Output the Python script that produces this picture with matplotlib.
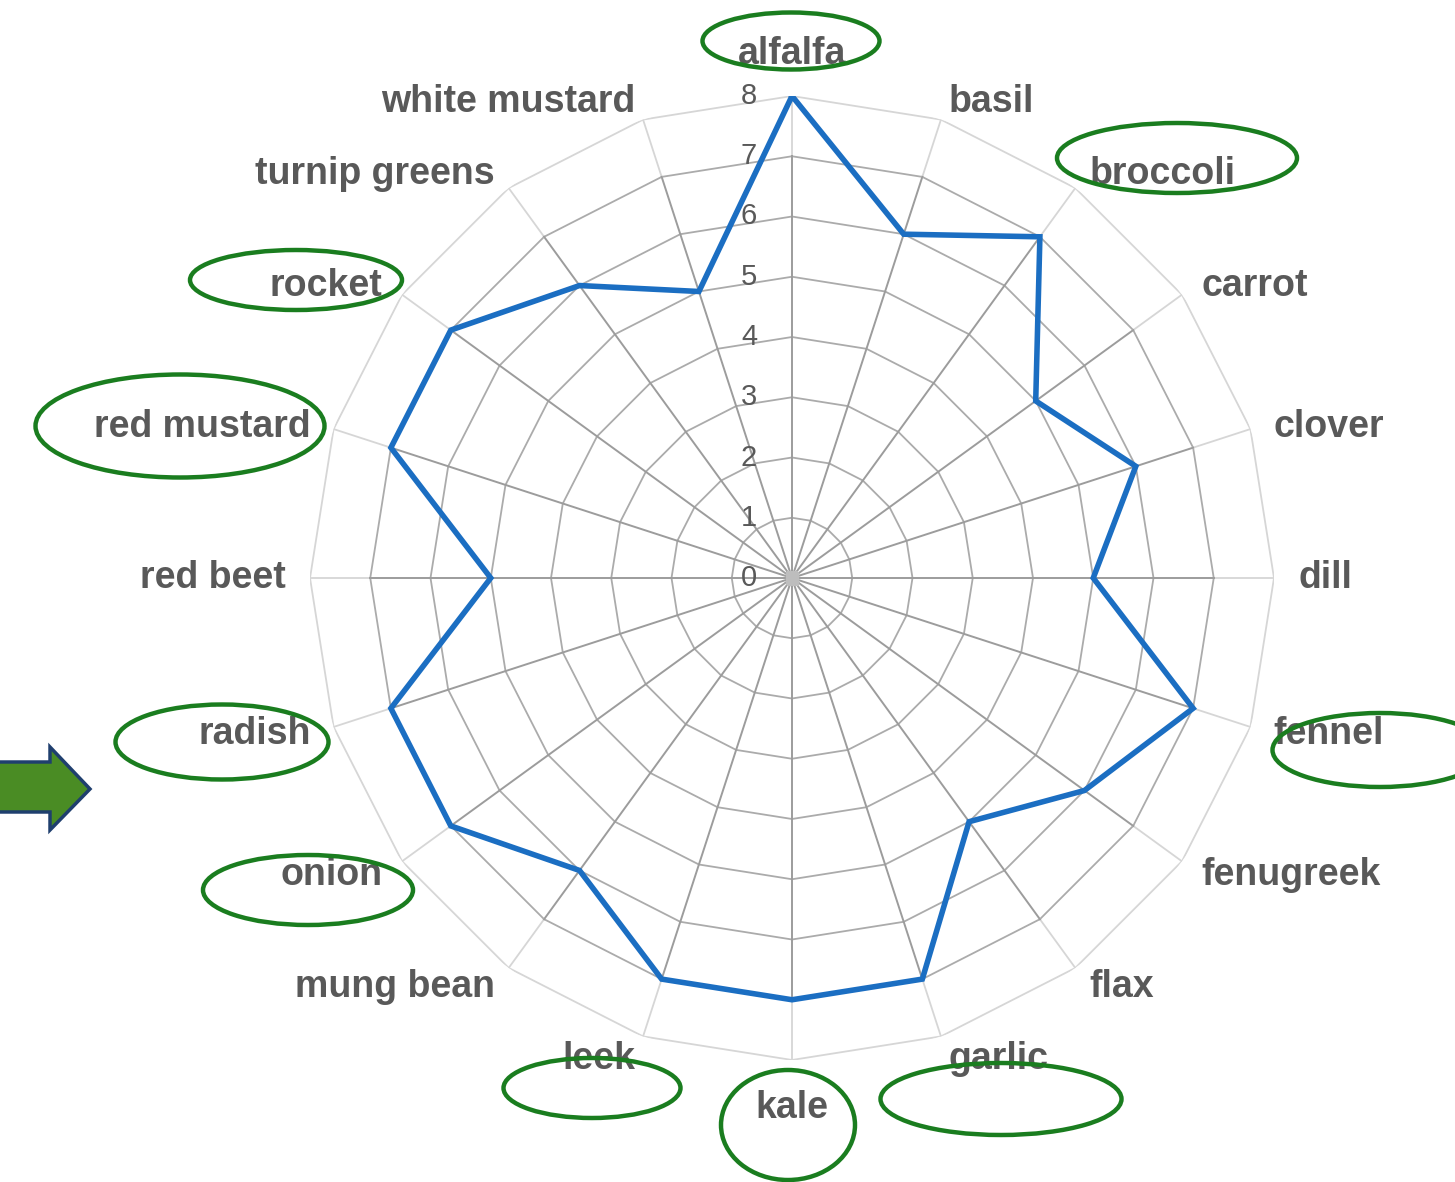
import numpy as np
import matplotlib
matplotlib.use("Agg")
from matplotlib import pyplot as plt
from matplotlib.patches import Ellipse, Polygon
import matplotlib.transforms as mtransforms

# categories, clockwise from the top
plants = ["alfalfa", "basil", "broccoli", "carrot", "clover", "dill", "fennel",
          "fenugreek", "flax", "garlic", "kale", "leek", "mung bean", "onion",
          "radish", "red beet", "red mustard", "rocket", "turnip greens",
          "white mustard"]
scores = [8, 6, 7, 5, 6, 5, 7, 6, 5, 7, 7, 7, 6, 7, 7, 5, 7, 7, 6, 5]
ring_ticks = [0, 1, 2, 3, 4, 5, 6, 7, 8]
# labels circled in green
circled = ["alfalfa", "broccoli", "rocket", "red mustard", "fennel", "radish",
           "onion", "leek", "kale", "garlic"]

plt.rcParams['font.family'] = ['Liberation Sans', 'DejaVu Sans']
label_col = '#595959'

W, H = 1455, 1182
fig = plt.figure(figsize=(W / 100, H / 100), dpi=100)
fig.patch.set_facecolor('white')

cx, cy, R = 792, 578, 482
ax = fig.add_axes([(cx - R) / W, (H - cy - R) / H, 2 * R / W, 2 * R / H],
                  projection='polar')
ax.set_theta_zero_location('N')
ax.set_theta_direction(-1)
ax.set_ylim(0, 8)
ax.grid(False)
ax.set_xticks([])
ax.set_yticks([])
ax.spines['polar'].set_visible(False)
ax.patch.set_alpha(0)

n = len(plants)
theta = np.arange(n) * 2 * np.pi / n
theta_c = np.append(theta, theta[0])

# spider grid (polygon rings + spokes)
for k in ring_ticks[1:]:
    col = '#d6d6d6' if k == 8 else '#ababab'
    ax.plot(theta_c, [k] * (n + 1), color=col, lw=1.3, zorder=1)
for t in theta:
    ax.plot([t, t], [0, 7], color='#9c9c9c', lw=1.4, zorder=2)
    ax.plot([t, t], [7, 8], color='#d6d6d6', lw=1.3, zorder=1)
ax.plot([0], [0], marker='s', ms=9, color='#bdbdbd', zorder=3)

# data
vals = np.append(scores, scores[0])
ax.plot(theta_c, vals, color='#1b6ec2', lw=4, zorder=5,
        solid_joinstyle='miter')

# ring values along the top spoke
off = mtransforms.offset_copy(ax.transData, fig=fig, x=-35, y=0, units='dots')
for k in ring_ticks:
    ax.text(0, k, str(k), transform=off, ha='right', va='center',
            fontsize=21, color=label_col, zorder=6)

# category labels
for t, name in zip(theta, plants):
    s, c = np.sin(t), np.cos(t)
    dy = 0
    if abs(s) < 1e-6:
        ha = 'center'
        va = 'bottom' if c > 0 else 'top'
        if c < 0:
            dy = -6
    else:
        ha = 'left' if s > 0 else 'right'
        va = 'center'
        if c > 0.1:
            dy = -5
    tr = mtransforms.offset_copy(ax.transData, fig=fig, x=0, y=dy, units='dots')
    ax.text(t, 8.4, name, transform=tr, ha=ha, va=va, fontsize=27,
            fontweight='bold', color=label_col, clip_on=False, zorder=6)

# annotation overlay in pixel coordinates
ov = fig.add_axes([0, 0, 1, 1], zorder=10)
ov.set_xlim(0, W)
ov.set_ylim(H, 0)
ov.axis('off')
ov.patch.set_alpha(0)

ellipses = {
    "alfalfa": (791, 41, 177, 57),
    "broccoli": (1177, 158, 240, 70),
    "rocket": (296, 280, 212, 60),
    "red mustard": (180, 426, 289, 103),
    "fennel": (1380, 750, 215, 74),
    "radish": (222, 742, 213, 75),
    "onion": (308, 890, 210, 70),
    "leek": (592, 1088, 177, 60),
    "kale": (788, 1125, 134, 110),
    "garlic": (1001, 1099, 241, 72),
}
for name in circled:
    x, y, w, h = ellipses[name]
    ov.add_patch(Ellipse((x, y), w, h, fill=False, ec='#1a7d1f', lw=3.2))

arrow = [(-5, 762), (50, 762), (50, 747), (90, 789), (50, 830), (50, 812),
         (-5, 812)]
ov.add_patch(Polygon(arrow, closed=True, fc='#4a8c24', ec='#1f3f6e', lw=2.5,
                     joinstyle='miter'))

fig.savefig('out.png', dpi=100, facecolor='white')
